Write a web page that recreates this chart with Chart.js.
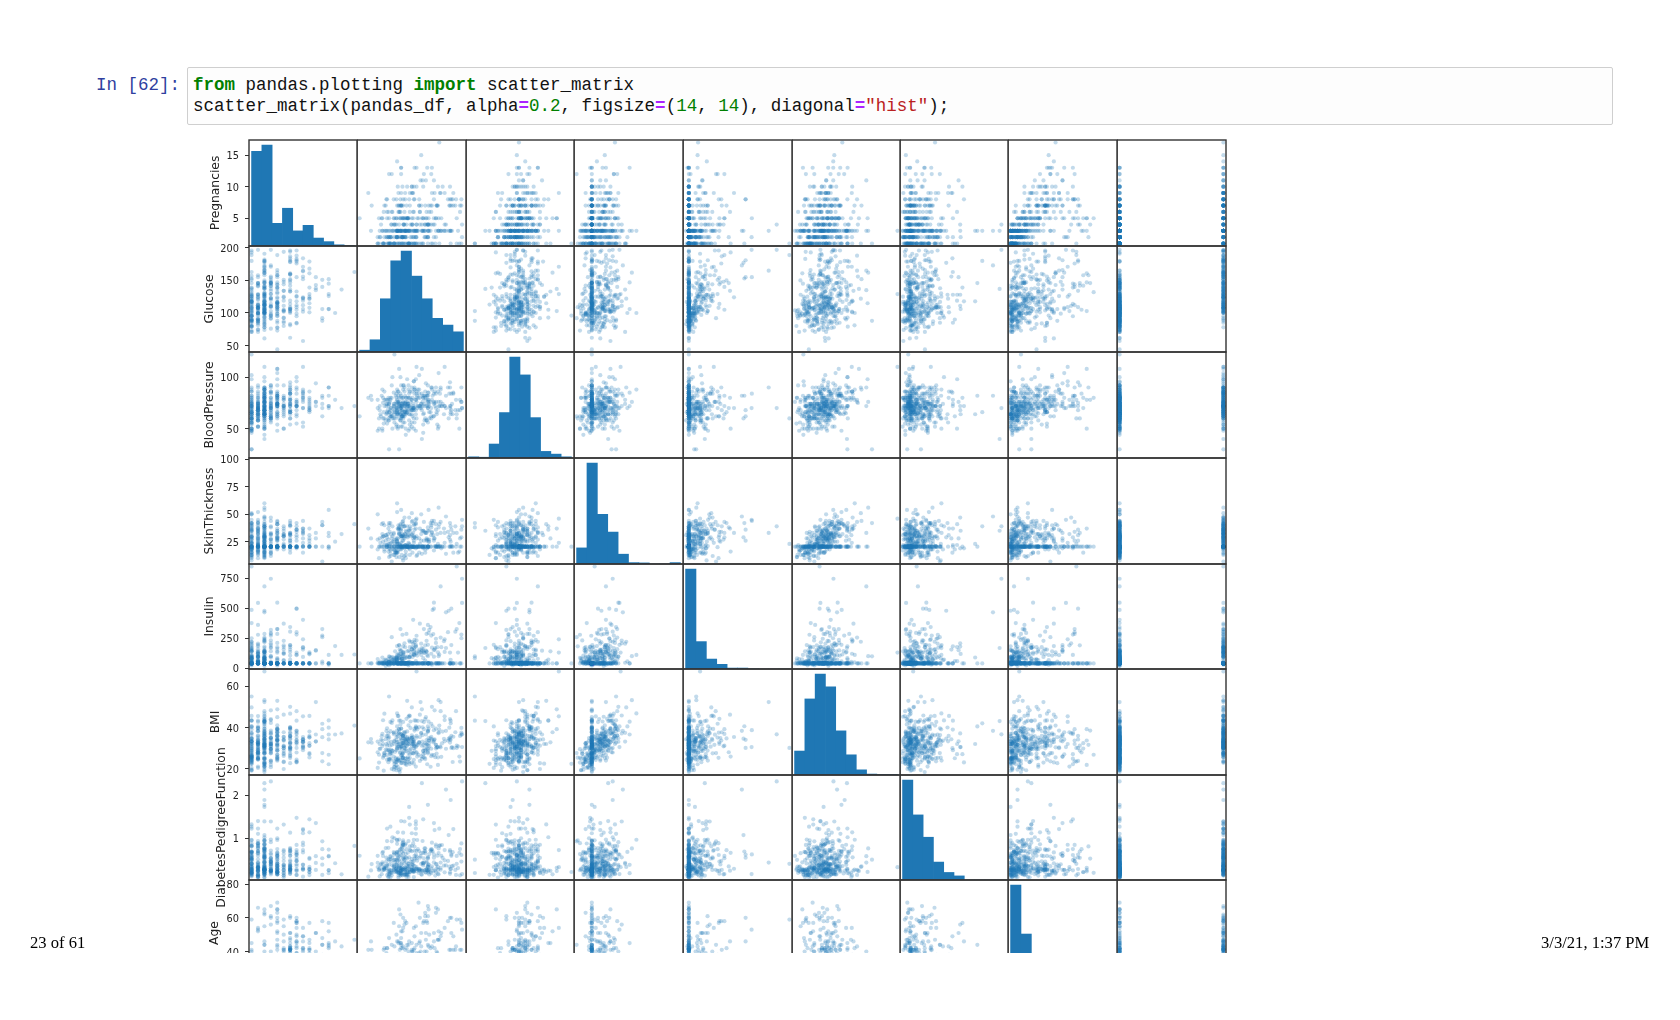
<!DOCTYPE html>
<html><head><meta charset="utf-8">
<script src="https://cdn.jsdelivr.net/npm/chart.js@4/dist/chart.umd.min.js"></script>
<style>
html,body{margin:0;padding:0;background:#fff;width:1680px;height:1020px;overflow:hidden}
.prompt{position:absolute;left:96px;top:75px;font:17.5px/21px "Liberation Mono",monospace;color:#303f9f;white-space:pre}
.cell{position:absolute;left:187px;top:67px;width:1424px;height:56px;border:1px solid #cfcfcf;border-radius:2px;background:#fdfdfd}
.code{position:absolute;left:193px;top:75px;font:17.5px/21px "Liberation Mono",monospace;color:#111;white-space:pre}
.k{color:#008000;font-weight:bold}.n{color:#008000}.o{color:#aa22ff;font-weight:bold}.s{color:#ba2121}
#plot{position:absolute;left:0;top:0;width:1680px;height:953px;overflow:hidden;filter:blur(0.55px)}
#plot canvas{position:absolute}
.foot{position:absolute;top:933px;font:16.6px/20px "Liberation Serif",serif;color:#000;white-space:pre}
</style></head><body>
<div class="cell"></div>
<div class="prompt">In [62]:</div>
<div class="code"><span class="k">from</span> pandas.plotting <span class="k">import</span> scatter_matrix
scatter_matrix(pandas_df, alpha<span class="o">=</span><span class="n">0.2</span>, figsize<span class="o">=</span>(<span class="n">14</span>, <span class="n">14</span>), diagonal<span class="o">=</span><span class="s">"hist"</span>);</div>
<div id="plot"></div>
<div class="foot" style="left:30px">23 of 61</div>
<div class="foot" style="left:1541px">3/3/21, 1:37 PM</div>
<script>
const columnNames=["Pregnancies","Glucose","BloodPressure","SkinThickness","Insulin","BMI","DiabetesPedigreeFunction","Age","Outcome"];
const pregnancies=[6,1,8,1,3,5,3,10,2,8,4,10,10,1,5,7,3,7,1,1,
3,8,7,9,11,10,7,1,13,5,5,3,3,6,10,4,11,9,2,4,
3,7,7,9,7,3,1,2,7,7,1,1,5,8,7,1,7,3,3,3,
2,8,5,2,7,5,3,2,1,4,2,5,13,4,1,1,7,5,3,2,
3,2,7,3,5,2,13,2,15,1,1,4,7,4,2,6,2,1,6,1,
1,1,3,1,2,1,1,4,3,3,3,8,1,4,7,4,5,5,4,4,
3,6,2,5,3,1,3,1,1,3,4,9,3,8,2,2,3,3,3,5,
3,5,2,10,4,3,9,2,5,2,1,4,9,1,8,7,2,1,2,17,
4,7,3,2,3,6,3,4,4,3,6,6,2,1,2,8,6,3,5,5,
6,3,1,5,4,7,8,1,8,5,3,9,7,11,8,5,1,3,4,4,
3,1,3,2,6,5,8,5,1,7,2,3,7,3,9,12,5,6,5,5,
3,2,7,7,1,1,3,3,4,3,4,6,1,4,3,4,7,3,9,3,
1,4,3,6,2,9,10,3,9,1,9,2,2,3,12,1,3,2,1,11,
3,3,4,3,4,5,3,2,3,2,10,2,3,1,13,2,7,3,5,2,
3,10,7,7,2,7,5,1,4,5,3,3,2,1,3,6,2,3,14,8,
3,2,5,5,3,2,10,3,3,2,6,3,2,3,7,2,3,3,3,6,
4,3,3,13,2,1,1,10,2,6,8,2,1,12,1,3,3,5,9,7,
1,1,1,5,8,8,1,3,3,5,4,4,3,1,3,9,1,13,12,1,
5,5,5,4,4,5,6,3,3,1,3,3,3,2,2,12,3,1,4,3,
1,3,1,1,1,1,5,8,5,3];
const glucose=[148,85,183,89,137,116,78,115,197,125,110,168,139,189,166,100,118,107,103,115,
126,99,196,119,143,125,147,97,145,117,109,158,88,92,122,103,138,102,90,111,
180,133,106,171,159,180,146,71,103,105,103,101,88,176,150,73,187,100,146,105,
84,133,44,141,114,99,109,109,95,146,100,139,126,129,79,117,62,95,131,112,
113,74,83,101,137,110,106,100,136,107,80,123,81,134,142,144,92,71,93,122,
163,151,125,81,85,126,96,144,83,95,171,155,89,76,160,146,124,78,97,99,
162,111,107,132,113,88,120,118,117,105,173,122,170,84,96,125,100,93,129,105,
128,106,108,108,154,102,57,106,147,90,136,114,156,153,188,152,99,109,88,163,
151,102,114,100,131,104,148,120,110,111,102,134,87,79,75,179,85,129,143,130,
87,119,117,73,141,194,181,128,109,139,111,123,159,135,85,158,105,107,109,148,
113,138,108,99,103,111,196,162,96,184,81,147,179,140,112,151,109,125,85,112,
177,158,119,142,100,87,101,162,197,117,142,134,79,122,74,171,181,179,164,104,
91,91,139,119,146,184,122,165,124,111,106,129,90,86,92,113,111,114,193,155,
191,141,95,142,123,96,138,128,102,146,101,108,122,71,106,100,106,104,114,108,
146,129,133,161,108,136,155,119,96,108,78,107,128,128,161,151,146,126,100,112,
167,144,77,115,150,120,161,137,128,124,80,106,155,113,109,112,99,182,115,194,
129,112,124,152,112,157,122,179,102,105,118,87,180,106,95,165,117,115,152,178,
130,95,117,122,95,126,139,116,99,117,92,137,61,90,90,165,125,129,88,196,
189,158,103,146,147,99,124,101,81,133,173,118,84,105,122,140,98,87,156,93,
107,105,109,90,125,119,116,105,144,100];
const bloodPressure=[72,66,64,66,40,74,50,72,70,96,92,74,80,60,72,72,84,74,30,70,
88,84,90,80,94,70,76,66,82,92,75,76,58,92,78,60,76,76,68,72,
64,84,92,110,64,66,56,70,66,72,80,50,66,90,66,50,68,88,82,64,
72,72,62,58,66,74,88,92,66,85,66,64,90,86,75,48,78,72,72,66,
44,72,78,65,108,74,72,68,70,68,55,80,78,72,82,72,62,48,50,90,
72,60,96,72,65,56,122,58,58,85,72,62,76,62,54,92,74,48,60,76,
76,64,74,80,76,30,70,58,88,84,70,56,64,74,68,60,70,60,80,72,
78,82,52,66,62,75,80,64,78,70,74,65,86,82,78,88,52,56,74,72,
90,74,80,64,88,74,66,68,66,90,82,70,72,60,64,72,78,110,78,82,
80,64,74,60,74,68,68,98,76,80,62,70,66,72,55,84,58,62,64,60,
80,82,68,70,72,72,76,104,64,84,60,85,95,65,82,70,62,68,74,66,
60,90,72,60,66,78,76,52,70,80,86,80,80,68,68,72,84,90,84,76,
64,70,54,50,76,85,68,90,70,86,52,84,80,68,62,64,56,68,50,76,
68,72,70,80,62,74,72,64,52,72,86,62,78,78,70,70,60,64,74,62,
70,76,88,86,80,74,84,86,56,72,88,62,78,48,50,62,70,84,78,72,
72,58,82,98,76,76,68,68,68,68,66,70,74,50,80,68,80,74,66,78,
60,74,70,90,75,72,64,70,86,70,72,58,72,80,60,76,72,76,78,84,
70,74,68,86,72,88,46,72,62,80,80,84,82,62,78,88,50,72,74,76,
64,70,108,78,74,54,72,64,86,102,82,64,64,58,52,82,82,60,75,100,
72,68,60,62,70,54,74,100,82,68];
const skinThickness=[35,29,20.5,23,35,20.5,32,20.5,45,20.5,20.5,20.5,20.5,23,19,20.5,47,20.5,38,30,
41,20.5,20.5,35,33,26,20.5,15,19,20.5,26,36,11,20.5,31,33,20.5,37,42,47,
25,20.5,18,24,20.5,39,20.5,27,32,20.5,11,15,21,34,42,10,39,60,20.5,41,
20.5,20.5,20.5,34,20.5,27,30,20.5,13,27,20,35,20.5,20,30,20,20.5,33,20.5,22,
13,20.5,26,28,20.5,29,54,25,32,19,20.5,15,40,20.5,18,27,28,18,30,51,
20.5,20.5,20.5,18,20.5,29,20.5,28,31,25,33,26,34,20.5,32,20.5,20.5,20.5,23,15,
56,39,30,20.5,20.5,42,30,36,24,20.5,14,20.5,37,31,13,20,26,25,20.5,29,
20.5,30,26,20.5,31,23,37,35,20.5,17,50,20.5,28,42,20.5,44,15,21,19,41,
38,40,34,23,20.5,18,25,20.5,20.5,12,20.5,23,23,42,24,42,20.5,46,20.5,20.5,
20.5,18,20,20.5,20.5,28,36,41,39,35,20.5,44,20.5,20.5,20,41,20.5,13,44,27,
16,20.5,20,16,32,28,29,20.5,27,33,22,54,31,26,32,40,41,30,22,20.5,
29,20.5,20.5,33,15,27,20.5,38,39,31,20.5,37,25,20.5,28,20.5,21,27,21,20.5,
24,32,20.5,22,35,15,20.5,33,33,19,20.5,20.5,14,32,7,35,39,22,16,28,
15,20.5,32,15,20.5,18,20.5,42,20.5,20.5,37,32,20.5,50,20.5,52,24,23,20.5,10,
20.5,28,15,20.5,20.5,26,44,39,17,43,29,30,37,45,20.5,31,38,29,25,20.5,
20.5,33,41,20.5,20.5,37,23,14,19,28,30,37,17,10,31,22,11,20.5,39,20.5,
12,30,20,33,32,21,32,20.5,36,32,19,16,20.5,20.5,18,43,20.5,20.5,34,20.5,
13,21,35,20.5,20.5,36,19,20.5,19,32,20.5,20.5,28,12,20.5,20.5,40,30,40,36,
33,20.5,37,20.5,25,28,20.5,17,16,28,48,23,22,40,43,43,15,37,20.5,39,
30,22,8,18,24,13,29,36,26,23];
const insulin=[40,40,40,94,168,40,88,40,543,40,40,40,40,846,175,40,230,40,83,96,
235,40,40,40,146,115,40,140,110,40,40,245,54,40,40,192,40,40,40,207,
70,40,40,240,40,40,40,40,40,40,82,36,23,300,342,40,304,110,40,142,
40,40,40,128,40,40,40,40,38,100,90,140,40,270,40,40,40,40,40,40,
40,40,71,40,40,125,40,71,110,40,40,176,48,40,64,228,40,76,64,220,
40,40,40,40,40,152,40,140,18,36,135,495,37,40,175,40,40,40,40,51,
100,40,100,40,40,99,135,94,145,40,168,40,225,40,49,140,50,92,40,325,
40,40,63,40,284,40,40,119,40,40,204,40,155,485,40,40,94,135,53,114,
40,105,285,40,40,156,40,40,40,78,40,130,40,48,55,130,40,130,40,40,
40,92,23,40,40,40,495,58,114,160,40,94,40,40,40,210,40,48,99,318,
40,40,40,44,190,40,280,40,87,40,40,40,40,130,175,271,129,120,40,40,
478,40,40,190,56,32,40,40,744,53,40,370,37,40,45,40,192,40,40,40,
40,88,40,176,194,40,40,680,402,40,40,40,55,40,258,40,40,40,375,150,
130,40,40,40,40,67,40,40,40,40,40,56,40,45,40,57,40,116,40,278,
40,122,155,40,40,135,545,220,49,75,40,74,182,194,40,120,360,215,184,40,
40,135,42,40,40,105,132,148,180,205,40,148,96,85,40,94,64,40,140,40,
231,40,40,29,40,168,156,40,120,68,40,52,40,40,58,255,40,40,171,40,
105,73,40,40,40,108,83,40,74,40,40,40,40,43,40,40,167,40,54,249,
325,40,40,40,293,83,40,40,66,140,465,89,66,94,158,325,84,75,40,72,
82,40,182,59,110,50,40,40,285,81];
const bmi=[33.6,26.6,23.3,28.1,43.1,25.6,31,35.3,30.5,32,37.6,38,27.1,30.1,25.8,30,45.8,29.6,43.3,34.6,
39.3,35.4,39.8,29,36.6,31.1,39.4,23.2,22.2,34.1,36,31.6,24.8,19.9,27.6,24,33.2,32.9,38.2,37.1,
34,40.2,22.7,45.4,27.4,42,29.7,28,39.1,32,19.4,24.2,24.4,33.7,34.7,23,37.7,46.8,40.5,41.5,
32,32.9,25,25.4,32.8,29,32.5,42.7,19.6,28.9,32.9,28.6,43.4,35.1,32,24.7,32.6,37.7,43.2,25,
22.4,32,29.3,24.6,48.8,32.4,36.6,38.5,37.1,26.5,19.1,32,46.7,23.8,24.7,33.9,31.6,20.4,28.7,49.7,
39,26.1,22.5,26.6,39.6,28.7,22.4,29.5,34.3,37.4,33.3,34,31.2,34,30.5,31.2,34,33.7,28.2,23.2,
53.2,34.2,33.6,26.8,33.3,55,42.9,33.3,34.5,27.9,29.7,33.3,34.5,38.3,21.1,33.8,30.8,28.7,31.2,36.9,
21.1,39.5,32.5,32.4,32.8,32,32.8,30.5,33.7,27.3,37.4,21.9,34.3,40.6,47.9,50,24.6,25.2,29,40.9,
29.7,37.2,44.2,29.7,31.6,29.9,32.5,29.6,31.9,28.4,30.8,35.4,28.9,43.5,29.7,32.7,31.2,67.1,45,39.1,
23.2,34.9,27.7,26.8,27.6,35.9,30.1,32,27.9,31.6,22.6,33.1,30.4,52.3,24.4,39.4,24.3,22.9,34.8,30.9,
31,40.1,27.3,20.4,37.7,23.9,37.5,37.7,33.2,35.5,27.7,42.8,34.2,42.6,34.2,41.8,35.8,30,29,37.8,
34.6,31.6,25.2,28.8,23.6,34.6,35.7,37.2,36.7,45.2,44,46.2,25.4,35,29.7,43.6,35.9,44.1,30.8,18.4,
29.2,33.1,25.6,27.1,38.2,30,31.2,52.3,35.4,30.1,31.2,28,24.4,35.8,27.6,33.6,30.1,28.7,25.9,33.3,
30.9,30,32.1,32.4,32,33.6,36.3,40,25.1,27.5,45.6,25.2,23,33.2,34.2,40.5,26.5,27.8,24.9,25.3,
37.9,35.9,32.4,30.4,27,26,38.7,45.6,20.8,36.1,36.9,36.6,43.3,40.5,21.9,35.5,28,30.7,36.6,23.6,
32.3,31.6,35.8,52.9,21,39.7,25.5,24.8,30.5,32.9,26.2,39.4,26.6,29.5,35.9,34.1,19.3,30.5,38.1,23.5,
27.5,31.6,27.4,26.8,35.7,25.6,35.1,35.1,45.5,30.8,23.1,32.7,43.3,23.6,23.9,47.9,33.8,31.2,34.2,39.9,
25.9,25.9,32,34.7,36.8,38.5,28.7,23.5,21.8,41,42.2,31.2,34.4,27.2,42.7,30.4,33.3,39.9,35.3,36.5,
31.2,29.8,39.2,38.5,34.9,34,27.6,21,27.5,32.8,38.4,32,35.8,34.9,36.2,39.2,25.2,37.2,48.3,43.4,
30.8,20,25.4,25.1,24.3,22.3,32.3,43.3,32,31.6];
const pedigree=[.627,.351,.672,.167,2.288,.201,.248,.134,.158,.232,.191,.537,1.441,.398,.587,.484,.551,.254,.183,.529,
.704,.388,.451,.263,.254,.205,.257,.487,.245,.337,.546,.851,.267,.188,.512,.966,.42,.665,.503,1.39,
.271,.696,.235,.721,.294,1.893,.564,.586,.344,.305,.491,.526,.142,.467,.718,.248,.254,.962,1.781,.173,
.304,.27,.587,.699,.258,.203,.855,.845,.334,.189,.867,.411,.583,.231,.396,.14,.391,.37,.27,.307,
.14,.102,.767,.237,.227,.698,.178,.324,.153,.165,.258,.443,.261,.277,.761,.255,.13,.323,.356,.325,
1.222,.179,.262,.283,.93,.801,.207,.287,.336,.247,.199,.543,.192,.391,.588,.539,.22,.654,.443,.223,
.759,.26,.404,.186,.278,.496,.452,.261,.403,.741,.361,1.114,.356,.457,.647,.088,.597,.532,.703,.159,
.268,.286,.318,.272,.237,.572,.096,1.4,.218,.085,.399,.432,1.189,.687,.137,.337,.637,.833,.229,.817,
.294,.204,.167,.368,.743,.722,.256,.709,.471,.495,.18,.542,.773,.678,.37,.719,.382,.319,.19,.956,
.084,.725,.299,.268,.244,.745,.615,1.321,.64,.361,.142,.374,.383,.578,.136,.395,.187,.678,.905,.15,
.874,.236,.787,.235,.324,.407,.605,.151,.289,.355,.29,.375,.164,.431,.26,.742,.514,.464,1.224,.261,
1.072,.805,.209,.687,.666,.101,.198,.652,2.329,.089,.645,.238,.583,.394,.293,.479,.586,.686,.831,.582,
.192,.446,.402,1.318,.329,1.213,.258,.427,.282,.143,.38,.284,.249,.238,.926,.543,.557,.092,.655,1.353,
.299,.761,.612,.2,.226,.997,.933,1.101,.078,.24,1.136,.128,.254,.422,.251,.677,.296,.454,.744,.881,
.334,.28,.262,.165,.259,.647,.619,.808,.34,.263,.434,.757,1.224,.613,.254,.692,.337,.52,.412,.84,
.839,.422,.156,.209,.207,.215,.326,.143,1.391,.875,.313,.605,.433,.626,1.127,.315,.284,.345,.15,.129,
.527,.197,.254,.731,.148,.123,.692,.2,.127,.122,1.476,.166,.282,.137,.26,.259,.932,.343,.893,.331,
.472,.673,.389,.29,.485,.349,.654,.187,.279,.346,.237,.252,.243,.58,.559,.302,.962,.569,.378,.875,
.583,.207,.305,.52,.385,.499,.368,.252,.306,.234,2.137,1.731,.545,.225,.816,.528,.299,.509,.238,1.021,
.821,.236,.947,1.268,.221,.205,.66,.239,.452,.949];
const age=[50,31,32,21,33,30,26,29,53,54,30,34,57,59,51,32,31,31,33,32,
27,50,41,29,51,41,43,22,57,38,60,28,22,28,45,33,35,46,27,56,
26,37,48,54,40,25,29,22,31,24,22,26,30,58,42,21,41,31,44,22,
21,39,36,24,42,32,38,54,25,27,28,26,42,23,22,22,41,27,26,24,
22,22,36,22,37,27,45,26,43,24,21,34,42,60,21,40,24,22,23,31,
33,22,21,24,27,21,27,37,25,24,24,46,23,25,39,61,38,25,22,21,
25,24,23,69,23,26,30,23,40,62,33,33,30,39,26,31,21,22,29,28,
55,38,22,42,23,21,41,34,65,22,24,37,42,23,43,36,21,23,22,47,
36,45,27,21,32,41,22,34,29,29,36,29,25,23,33,36,42,26,47,37,
32,23,21,27,40,41,60,33,31,25,21,40,36,40,42,29,21,23,26,29,
21,28,32,27,55,27,57,52,21,41,25,24,60,24,36,38,25,32,32,41,
21,66,37,61,26,22,26,24,31,24,22,46,22,29,23,26,51,23,32,27,
21,22,22,33,29,49,41,23,34,23,42,27,24,25,44,21,30,25,24,51,
34,27,24,63,35,43,25,24,21,28,38,21,40,21,52,25,29,23,57,22,
28,39,37,47,52,51,34,29,26,33,21,25,31,24,65,28,29,24,46,58,
30,25,35,28,37,29,47,21,25,30,41,22,27,25,43,26,30,29,28,59,
31,25,36,43,21,24,30,37,23,37,46,25,41,44,22,26,44,44,33,41,
22,36,22,33,57,49,22,23,26,37,29,30,46,24,21,49,28,44,48,29,
29,63,65,67,30,30,29,21,22,45,25,21,21,25,28,58,22,22,32,35,
24,22,21,25,25,24,35,45,58,28];
const outcome=[1,0,1,0,1,0,1,0,1,1,0,1,0,1,1,1,1,1,0,1,
0,0,1,1,1,1,1,0,0,0,0,1,0,0,0,0,0,1,1,1,
0,0,0,1,0,1,0,0,1,0,0,0,0,1,0,0,1,0,0,0,
0,1,0,0,1,0,1,0,0,0,1,0,1,0,0,0,0,0,1,0,
0,0,0,0,1,0,0,0,1,0,0,0,0,1,0,0,0,0,0,1,
1,0,0,0,0,0,0,0,0,1,1,1,0,0,1,1,1,0,0,0,
1,0,0,0,1,1,0,0,1,1,1,1,1,0,0,0,0,0,0,0,
0,0,0,1,0,0,0,0,0,0,0,0,1,0,1,1,0,0,0,1,
0,0,0,0,1,1,0,0,0,0,1,1,0,0,0,1,0,1,0,1,
0,0,0,0,0,1,1,1,1,1,0,0,1,1,0,1,0,1,1,1,
0,0,0,0,0,0,1,1,0,1,0,0,0,1,1,1,1,0,1,1,
1,1,0,0,0,0,0,1,0,0,1,1,0,0,0,1,1,1,1,0,
0,0,1,1,0,1,0,0,0,0,0,0,0,0,1,1,0,0,0,1,
0,1,0,0,1,0,1,0,0,1,1,0,0,0,0,0,1,0,0,0,
1,0,0,1,1,0,0,1,0,0,0,1,1,1,0,0,1,0,1,0,
1,1,0,1,0,0,1,0,1,1,0,0,1,0,1,0,0,1,0,1,
0,1,1,1,0,0,1,0,1,0,0,0,1,0,0,0,0,1,1,1,
0,0,0,0,0,0,0,0,0,1,0,0,0,0,0,1,1,1,0,1,
1,0,0,1,0,0,1,0,0,1,1,0,0,0,0,1,0,0,1,0,
0,0,0,0,0,0,1,1,1,0];

const histPregnancies=[238,254,57,95,38,52,20,11,3,1];
const histGlucose=[3,20,87,149,165,124,87,55,44,33];
const histBloodPressure=[3,2,36,117,260,214,104,17,10,3];
const histSkinThickness=[59,370,182,117,36,5,4,0,0,5];
const histInsulin=[533,146,53,25,5,5,1,0,0,0];
const histBmi=[51,162,215,188,94,43,11,2,1,1];
const histPedigree=[318,207,136,57,24,13,0,0,0,0];
const histAge=[305,157,92,86,52,38,25,8,3,2];

const limitsPregnancies=[0.6,17.4];
const limitsGlucose=[40.1,202.9];
const limitsBloodPressure=[21.55,124.45];
const limitsSkinThickness=[4.7,101.3];
const limitsInsulin=[-6.8,866.8];
const limitsBmi=[17,68.3];
const limitsPedigree=[0.019,2.479];
const limitsAge=[19.5,82.5];
const limitsOutcome=[-0.025,1.025];

const ticksPregnancies=[5,10,15];
const ticksGlucose=[50,100,150,200];
const ticksBloodPressure=[50,100];
const ticksSkinThickness=[25,50,75,100];
const ticksInsulin=[0,250,500,750];
const ticksBmi=[20,40,60];
const ticksPedigree=[1,2];
const ticksAge=[40,60,80];

const values=[pregnancies,glucose,bloodPressure,skinThickness,insulin,bmi,pedigree,age,outcome];
const hists=[histPregnancies,histGlucose,histBloodPressure,histSkinThickness,histInsulin,histBmi,histPedigree,histAge];
const limits=[limitsPregnancies,limitsGlucose,limitsBloodPressure,limitsSkinThickness,limitsInsulin,limitsBmi,limitsPedigree,limitsAge,limitsOutcome];
const rowTicks=[ticksPregnancies,ticksGlucose,ticksBloodPressure,ticksSkinThickness,ticksInsulin,ticksBmi,ticksPedigree,ticksAge];

const colEdges=[249,357,466,574,683,792,900,1008,1117,1226];
const rowEdges=[140,246,352,458,564,669,775,880,986];
const titleInset=[29,23,23,23,23,29,35,28];
const LEFT=70,PAD=70,RIGHT=2;
const plot=document.getElementById('plot');

const framePlugin={id:'frame',
 beforeDraw(ch){const s=ch.scales.y; if(s&&s.options.display){s.getLabelItems(ch.chartArea).forEach(it=>{it.options.translation[1]+=1.5;});}},
 afterDraw(ch){const a=ch.chartArea,c=ch.ctx;c.save();c.strokeStyle='#333';c.lineWidth=1.4;
 c.strokeRect(a.left,a.top,a.right-a.left,a.bottom-a.top);c.restore();}};

function binCenters(l,h){ // bar centres: ten equal bins across the data range inside the padded limits
 const pad=(l[1]-l[0])*0.05/1.05/2, lo=l[0]+pad, hi=l[1]-pad, w=(hi-lo)/10;
 return h.map((c,i)=>({x:lo+(i+.5)*w,y:c}));
}
for(let r=0;r<8;r++){for(let c=0;c<9;c++){
 const W=colEdges[c+1]-colEdges[c],H=rowEdges[r+1]-rowEdges[r];
 const first=c===0, left=first?LEFT:0, inset=first?titleInset[r]:0;
 const cv=document.createElement('canvas');
 cv.width=left+W+RIGHT; cv.height=H+PAD*2;
 cv.style.left=(colEdges[c]-left)+'px'; cv.style.top=(rowEdges[r]-PAD)+'px';
 cv.style.width=cv.width+'px'; cv.style.height=cv.height+'px';
 plot.appendChild(cv);
 const diag=r===c;
 const scales={
  x:{type:'linear',display:false,offset:false,min:limits[c][0],max:limits[c][1]},
  y:{type:'linear',display:first,min:limits[r][0],max:limits[r][1],
     afterBuildTicks(s){s.ticks=rowTicks[r].map(v=>({value:v}));},
     afterFit(s){if(first)s.width=LEFT-inset;},
     grid:{display:true,drawOnChartArea:false,drawTicks:true,tickLength:4,tickColor:'#333',color:'#333'},
     border:{display:false},
     ticks:{autoSkip:false,maxRotation:0,padding:6,color:'#222',font:{family:'"DejaVu Sans"',size:9.8},callback:v=>String(v)},
     title:{display:true,text:columnNames[r],color:'#222',padding:0,font:{family:'"DejaVu Sans"',size:12.3}}}
 };
 let data;
 if(diag){
  const h=hists[r];
  scales.yHist={type:'linear',display:false,min:0,max:Math.max(...h)*1.05};
  data={datasets:[{type:'bar',yAxisID:'yHist',data:binCenters(limits[r],h),backgroundColor:'#1f77b4',borderWidth:0,barPercentage:1,categoryPercentage:1}]};
 }else{
  const xs=values[c],ys=values[r];
  data={datasets:[{type:'scatter',data:xs.map((v,i)=>({x:v,y:ys[i]})),pointRadius:2.1,pointBorderWidth:0,pointBackgroundColor:'rgba(31,119,180,0.27)',showLine:false}]};
 }
 new Chart(cv,{type:diag?'bar':'scatter',data,options:{
  responsive:false,animation:false,devicePixelRatio:1,events:[],
  layout:{autoPadding:false,padding:{left:inset,right:RIGHT,top:PAD,bottom:PAD}},
  plugins:{legend:{display:false},tooltip:{enabled:false},title:{display:false}},scales},plugins:[framePlugin]});
}}
</script>
</body></html>
